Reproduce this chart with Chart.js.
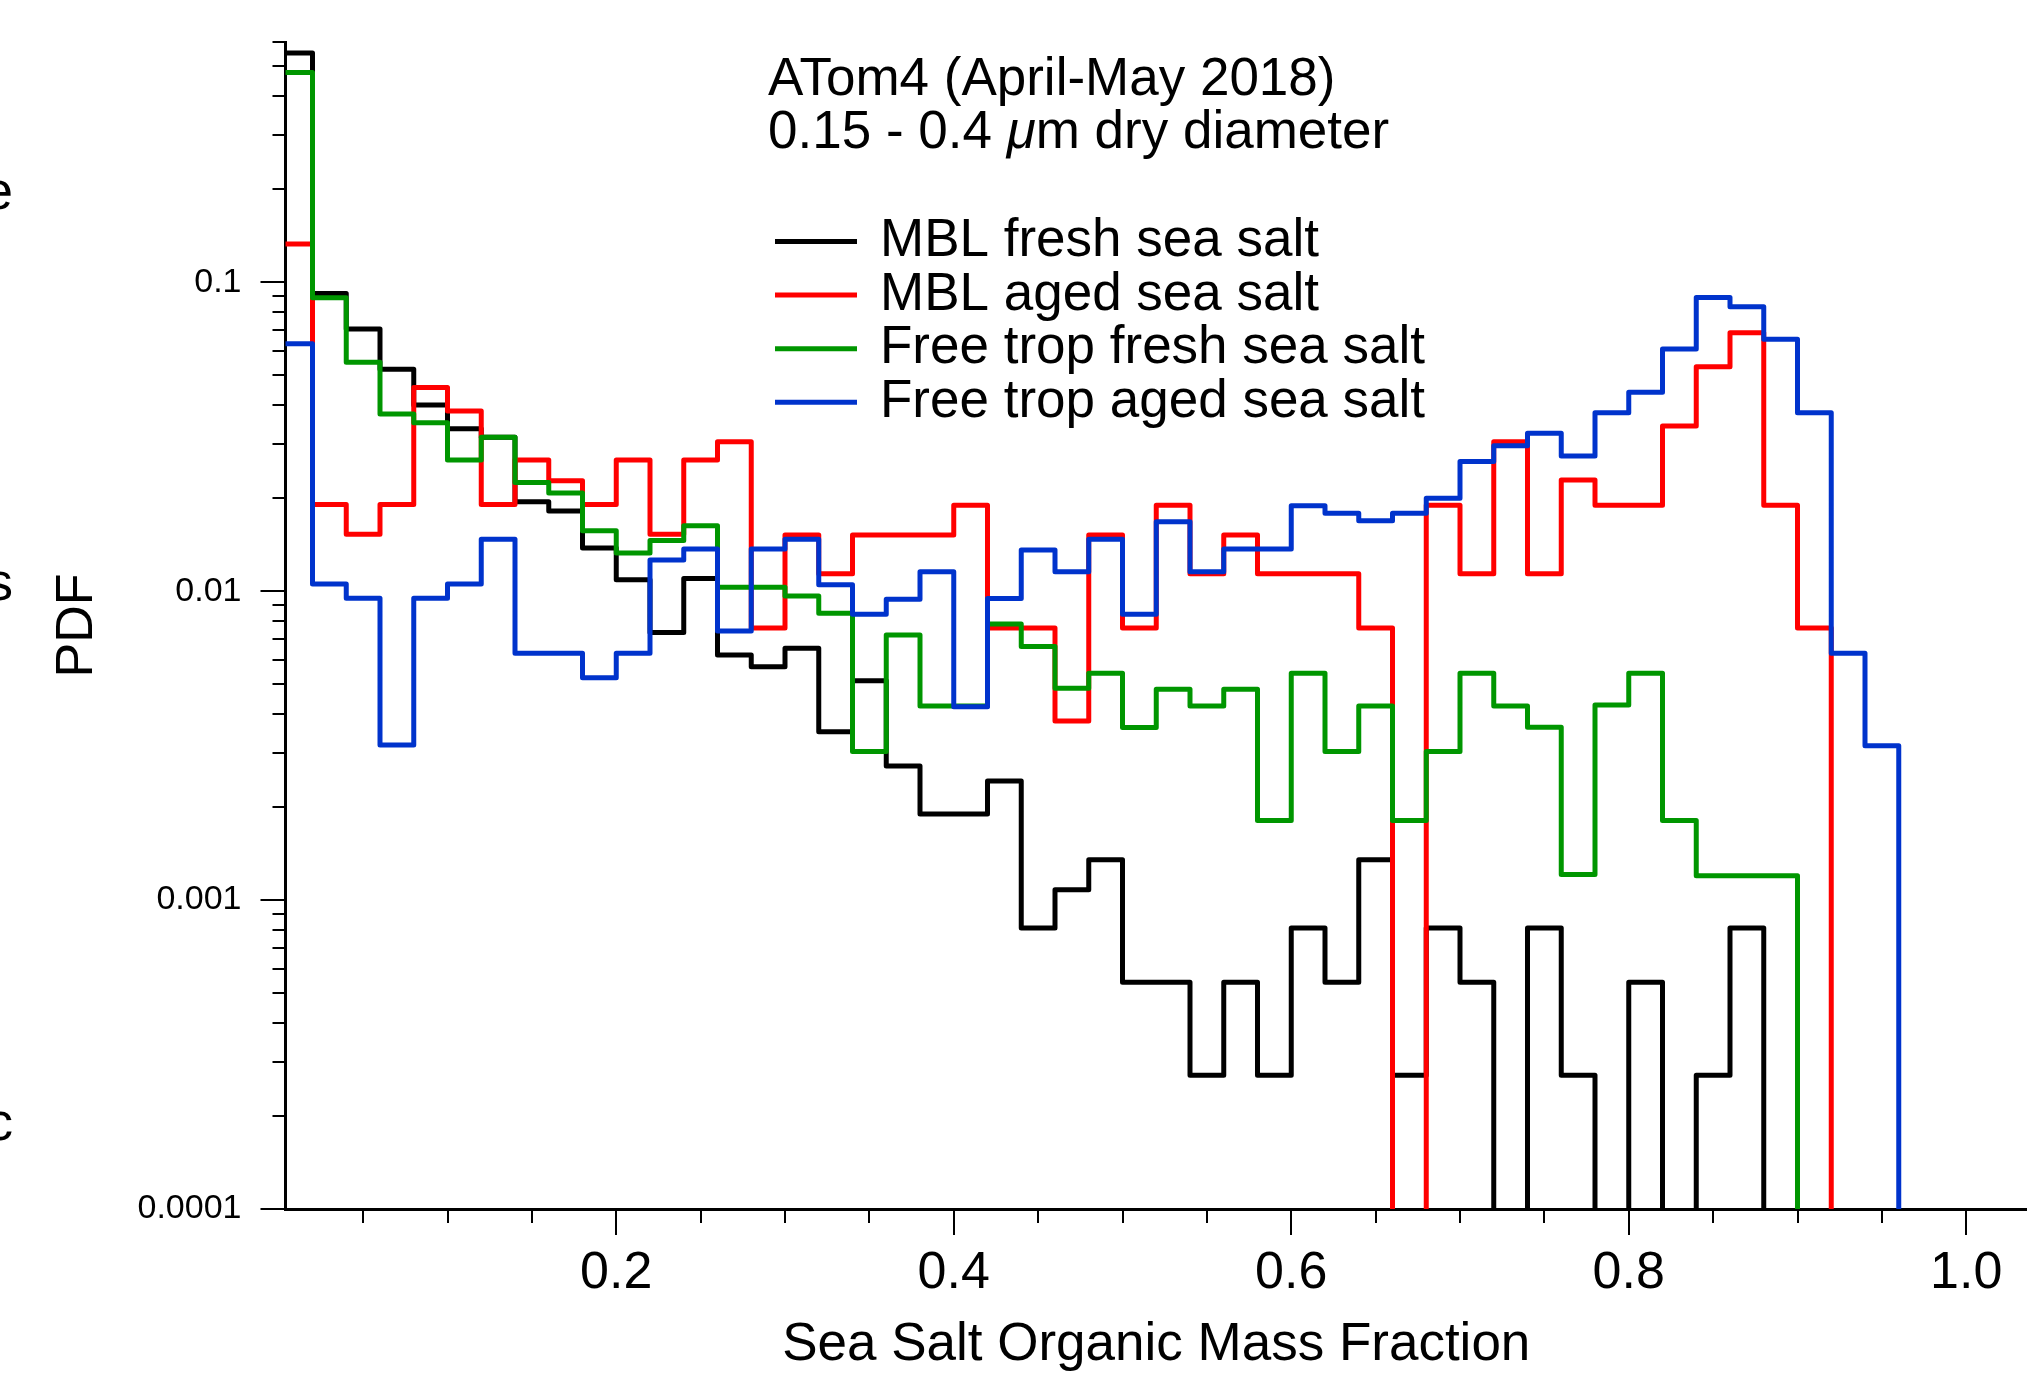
<!DOCTYPE html>
<html>
<head>
<meta charset="utf-8">
<title>ATom4 sea salt organic mass fraction PDF</title>
<script src="https://cdn.jsdelivr.net/npm/chart.js@4.4.1/dist/chart.umd.min.js"></script>
<style>
  html, body { margin: 0; padding: 0; background: #fff; }
  #chart { display: block; }
</style>
</head>
<body>
<canvas id="chart" width="2027" height="1383"></canvas>
<script>
// left edges of the 0.02 wide bins (last entry closes the last bin)
const binEdges = [0.00, 0.02, 0.04, 0.06, 0.08, 0.10, 0.12, 0.14, 0.16, 0.18,
                  0.20, 0.22, 0.24, 0.26, 0.28, 0.30, 0.32, 0.34, 0.36, 0.38,
                  0.40, 0.42, 0.44, 0.46, 0.48, 0.50, 0.52, 0.54, 0.56, 0.58,
                  0.60, 0.62, 0.64, 0.66, 0.68, 0.70, 0.72, 0.74, 0.76, 0.78,
                  0.80, 0.82, 0.84, 0.86, 0.88, 0.90, 0.92, 0.94, 0.96];

// PDF per bin, 0 = empty bin
const mblFresh = [0.553, 0.0921, 0.0706, 0.0523, 0.0401, 0.0336, 0.0315, 0.0195, 0.0182, 0.0138,
                  0.0109, 0.00735, 0.0110, 0.00622, 0.0057, 0.00654, 0.00351, 0.00513, 0.00272, 0.0019,
                  0.0019, 0.00243, 0.000812, 0.00108, 0.00135, 0.000542, 0.000542, 0.000271, 0.000542, 0.000271,
                  0.000813, 0.000542, 0.00135, 0.000271, 0.000813, 0.000542, 0, 0.000813, 0.000271, 0,
                  0.000542, 0, 0.000271, 0.000813, 0, 0, 0, 0];
const mblAged = [0.133, 0.0191, 0.0153, 0.0191, 0.0457, 0.0383, 0.0191, 0.0266, 0.0228, 0.0191,
                 0.0266, 0.0153, 0.0266, 0.0305, 0.0076, 0.0152, 0.0114, 0.0152, 0.0152, 0.0152,
                 0.0190, 0.0076, 0.0076, 0.0038, 0.0152, 0.0076, 0.0190, 0.0114, 0.0152, 0.0114,
                 0.0114, 0.0114, 0.0076, 0, 0.0190, 0.0114, 0.0305, 0.0114, 0.0229, 0.0190,
                 0.0190, 0.0343, 0.0533, 0.0687, 0.0190, 0.0076, 0, 0];
const ftFresh = [0.478, 0.0892, 0.0551, 0.0375, 0.0351, 0.0266, 0.0315, 0.0225, 0.0208, 0.0157,
                 0.0133, 0.0146, 0.0163, 0.0103, 0.0103, 0.00966, 0.00849, 0.00303, 0.00722, 0.00425,
                 0.00425, 0.00784, 0.00662, 0.00485, 0.00543, 0.00362, 0.00482, 0.00425, 0.00482, 0.00181,
                 0.00543, 0.00303, 0.00425, 0.00181, 0.00303, 0.00543, 0.00425, 0.00363, 0.00121, 0.00428,
                 0.00543, 0.00181, 0.0012, 0.0012, 0.0012, 0, 0, 0];
const ftAged = [0.0633, 0.01056, 0.00949, 0.00318, 0.00949, 0.01056, 0.01474, 0.0063, 0.0063, 0.00525,
                0.0063, 0.01263, 0.0137, 0.00744, 0.0137, 0.01474, 0.0105, 0.00842, 0.00942, 0.01157,
                0.00423, 0.00948, 0.0136, 0.01157, 0.01474, 0.00842, 0.0168, 0.01157, 0.0137, 0.0137,
                0.0189, 0.0179, 0.0169, 0.0179, 0.0200, 0.0263, 0.0296, 0.0325, 0.0274, 0.0378,
                0.0441, 0.0608, 0.0894, 0.0834, 0.0654, 0.0378, 0.0063, 0.00316];

const seriesLabels = ['MBL fresh sea salt', 'MBL aged sea salt', 'Free trop fresh sea salt', 'Free trop aged sea salt'];
const seriesColors = ['#000000', '#ff0000', '#009600', '#0033cc'];
const xMajorTicks = [0.2, 0.4, 0.6, 0.8, 1.0];
const yMajorTicks = [0.0001, 0.001, 0.01, 0.1];
const titleLine1 = 'ATom4 (April-May 2018)';
const titleLine2 = ['0.15 - 0.4 ', 'μ', 'm dry diameter'];

const FONT = '"Liberation Sans", Arial, Helvetica, sans-serif';
const EMPTY = 1e-6; // empty bins go below the axis so the step drops to it

function toSteps(values) {
  const pts = values.map((v, i) => ({ x: binEdges[i], y: v > 0 ? v : EMPTY }));
  pts.push({ x: binEdges[values.length], y: EMPTY });
  return pts;
}

// minor/major tick marks, placed through the chart scales
const axisTicks = {
  id: 'axisTicks',
  afterDraw(chart) {
    const { ctx, chartArea, scales: { x, y } } = chart;
    ctx.save();
    ctx.strokeStyle = '#000';
    ctx.lineWidth = 2;
    ctx.beginPath();
    for (let k = 1; k <= 20; k++) {
      const v = k * 0.05;
      if (v < x.min || v > x.max) continue;
      const px = Math.round(x.getPixelForValue(v));
      const len = k % 4 === 0 ? 26 : 14;
      ctx.moveTo(px, chartArea.bottom);
      ctx.lineTo(px, chartArea.bottom + len);
    }
    for (let d = -4; d <= -1; d++) {
      for (let m = 1; m <= 9; m++) {
        const v = m * Math.pow(10, d);
        if (v > y.max * 1.0001) break;
        const py = Math.round(y.getPixelForValue(v));
        const len = m === 1 ? 25 : 13;
        ctx.moveTo(chartArea.left - len, py);
        ctx.lineTo(chartArea.left, py);
      }
    }
    ctx.stroke();
    ctx.restore();
  }
};

// title text and legend inside the plot
const annotations = {
  id: 'annotations',
  afterDraw(chart) {
    const ctx = chart.ctx;
    ctx.save();
    ctx.fillStyle = '#000';
    ctx.textBaseline = 'alphabetic';
    ctx.textAlign = 'left';
    ctx.font = '53px ' + FONT;
    ctx.fillText(titleLine1, 768, 95);

    let tx = 768;
    ctx.fillText(titleLine2[0], tx, 148);
    tx += ctx.measureText(titleLine2[0]).width;
    ctx.font = 'italic 53px ' + FONT;
    ctx.fillText(titleLine2[1], tx, 148);
    tx += ctx.measureText(titleLine2[1]).width;
    ctx.font = '53px ' + FONT;
    ctx.fillText(titleLine2[2], tx, 148);

    chart.data.datasets.forEach((ds, i) => {
      const base = 256 + i * 53.6;
      ctx.strokeStyle = ds.borderColor;
      ctx.lineWidth = 5;
      ctx.beginPath();
      ctx.moveTo(775, base - 14.5);
      ctx.lineTo(857, base - 14.5);
      ctx.stroke();
      ctx.fillText(ds.label, 880, base);
    });

    // pieces of the neighbouring panel's label, cut by the left edge
    ctx.textAlign = 'right';
    ctx.textBaseline = 'middle';
    ctx.font = '53px ' + FONT;
    ctx.fillText('e', 13, 194);
    ctx.fillText('s', 13, 585);
    ctx.fillText('c', 13, 1125);
    ctx.restore();
  }
};

const seriesData = [mblFresh, mblAged, ftFresh, ftAged];

new Chart(document.getElementById('chart'), {
  type: 'line',
  data: {
    datasets: seriesData.map((vals, i) => ({
      label: seriesLabels[i],
      data: toSteps(vals),
      borderColor: seriesColors[i],
      backgroundColor: seriesColors[i],
      borderWidth: 5,
      borderJoinStyle: 'round',
      stepped: 'before',
      pointRadius: 0,
      fill: false,
      order: 4 - i,
      clip: { left: 0, top: 5, right: 0, bottom: 0 }
    }))
  },
  options: {
    responsive: false,
    animation: false,
    layout: { padding: { top: 42, right: 0, bottom: 0, left: 0 } },
    plugins: { legend: { display: false }, tooltip: { enabled: false } },
    scales: {
      x: {
        type: 'linear',
        min: 0.004,
        max: 1.036,
        afterFit: s => { s.height = 174; s.paddingLeft = 0; s.paddingRight = 0; },
        afterBuildTicks: s => { s.ticks = xMajorTicks.map(v => ({ value: v })); },
        grid: { display: false, drawTicks: false },
        border: { display: true, color: '#000', width: 3 },
        ticks: {
          padding: 33,
          color: '#000',
          maxRotation: 0,
          autoSkip: false,
          font: { family: FONT, size: 52 },
          callback: v => Number(v).toFixed(1)
        },
        title: {
          display: true,
          text: 'Sea Salt Organic Mass Fraction',
          color: '#000',
          font: { family: FONT, size: 53 },
          padding: { top: 0, bottom: 6 }
        }
      },
      y: {
        type: 'logarithmic',
        min: 0.0001,
        max: 0.6,
        afterFit: s => { s.width = 285.5; s.paddingTop = 0; s.paddingBottom = 0; },
        afterBuildTicks: s => { s.ticks = yMajorTicks.map(v => ({ value: v })); },
        grid: { display: false, drawTicks: false },
        border: { display: true, color: '#000', width: 3 },
        ticks: {
          padding: 44,
          color: '#000',
          autoSkip: false,
          font: { family: FONT, size: 34 },
          callback: v => String(v)
        },
        title: {
          display: true,
          text: 'PDF',
          color: '#000',
          font: { family: FONT, size: 52 },
          padding: { top: 46, bottom: 0 }
        }
      }
    }
  },
  plugins: [axisTicks, annotations]
});
</script>
</body>
</html>
